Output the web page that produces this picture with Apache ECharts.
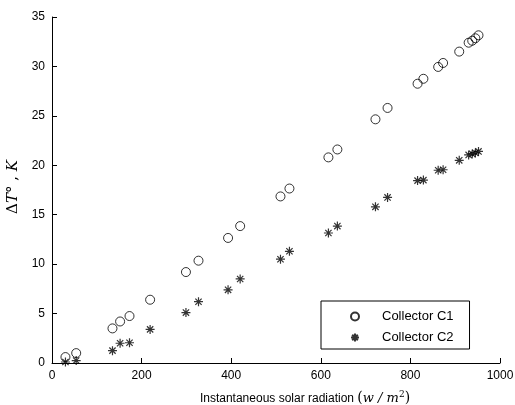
<!DOCTYPE html>
<html>
<head>
<meta charset="utf-8">
<script src="https://cdn.jsdelivr.net/npm/echarts@6/dist/echarts.min.js"></script>
<style>html,body{margin:0;padding:0;background:#fff}#c{width:515px;height:405px}</style>
</head>
<body>
<div id="c"></div>
<script>
const radiation = [30, 54, 135, 152, 173, 219, 299, 327, 393, 420, 510, 530, 617, 637, 722, 749, 816, 829, 862, 873, 909, 930, 938, 945, 952];
const collectorC1 = [0.6, 1.0, 3.5, 4.2, 4.75, 6.4, 9.2, 10.35, 12.65, 13.85, 16.85, 17.65, 20.8, 21.6, 24.65, 25.8, 28.25, 28.75, 29.95, 30.35, 31.5, 32.4, 32.6, 32.85, 33.15];
const collectorC2 = [0.1, 0.25, 1.25, 2.0, 2.05, 3.4, 5.1, 6.2, 7.4, 8.5, 10.5, 11.3, 13.15, 13.85, 15.8, 16.75, 18.45, 18.5, 19.5, 19.55, 20.5, 21.05, 21.15, 21.25, 21.4];
const seriesNames = ['Collector C1', 'Collector C2'];
const xTicks = [0, 200, 400, 600, 800, 1000];
const yTicks = [0, 5, 10, 15, 20, 25, 30, 35];

const star = 'path://M5,0L5,10M0,5L10,5M1.5,1.5L8.5,8.5M1.5,8.5L8.5,1.5';
const font = 'Liberation Sans, Arial, sans-serif';
const chart = echarts.init(document.getElementById('c'));
chart.setOption({
  animation: false,
  backgroundColor: '#fff',
  grid: { left: 52, right: 15, top: 17, bottom: 42, containLabel: false, outerBoundsMode: 'none' },
  legend: {
    orient: 'vertical', left: 321, top: 301,
    padding: [9, 16, 5, 29], itemGap: 8, itemWidth: 8, itemHeight: 8,
    borderColor: '#000', borderWidth: 1, borderRadius: 0, backgroundColor: '#fff',
    textStyle: { fontFamily: font, fontSize: 13, color: '#000', padding: [0, 0, 0, 18] },
    data: seriesNames
  },
  xAxis: {
    type: 'value', min: xTicks[0], max: xTicks[xTicks.length - 1], interval: 200,
    axisLine: { lineStyle: { color: '#000', width: 1 } },
    axisTick: { inside: true, length: 5, lineStyle: { color: '#000' } },
    splitLine: { show: false },
    axisLabel: { color: '#000', fontFamily: font, fontSize: 12, margin: 7, formatter: v => String(v) },
    name: '{n|Instantaneous solar radiation }{p|(}{i|w / m}{s|2}{p|)}',
    nameLocation: 'middle', nameGap: 27,
    nameTextStyle: {
      padding: [0, 0, 0, 58],
      rich: {
        n: { fontFamily: font, fontSize: 12, color: '#000' },
        p: { fontFamily: 'DejaVu Serif, serif', fontSize: 14, color: '#000' },
        i: { fontFamily: 'DejaVu Serif, serif', fontStyle: 'italic', fontSize: 13, color: '#000' },
        s: { fontFamily: 'DejaVu Serif, serif', fontSize: 9, color: '#000', verticalAlign: 'top', padding: [0, 0, 8, 0] }
      }
    }
  },
  yAxis: {
    type: 'value', min: yTicks[0], max: yTicks[yTicks.length - 1], interval: 5,
    axisLine: { show: true, lineStyle: { color: '#000', width: 1 } },
    axisTick: { show: true, inside: true, length: 5, lineStyle: { color: '#000' } },
    splitLine: { show: false },
    axisLabel: { color: '#000', fontFamily: font, fontSize: 12, margin: 7 },
    name: '{n|\u0394}{i|T}{n|\u00b0 , }{i|K}',
    nameLocation: 'middle', nameGap: 30, nameRotate: 90,
    nameTextStyle: {
      padding: [0, 0, 0, 6],
      rich: {
        n: { fontFamily: 'DejaVu Serif, serif', fontSize: 15, color: '#000' },
        i: { fontFamily: 'DejaVu Serif, serif', fontStyle: 'italic', fontSize: 15, color: '#000' }
      }
    }
  },
  series: [
    {
      name: seriesNames[0], type: 'scatter', symbol: 'circle', symbolSize: 9,
      itemStyle: { color: 'rgba(0,0,0,0)', borderColor: '#000', borderWidth: 1 },
      data: radiation.map((x, i) => [x, collectorC1[i]])
    },
    {
      name: seriesNames[1], type: 'scatter', symbol: star, symbolSize: 9,
      itemStyle: { color: 'rgba(0,0,0,0)', borderColor: '#000', borderWidth: 1.2 },
      data: radiation.map((x, i) => [x, collectorC2[i]])
    }
  ]
});
</script>
</body>
</html>
